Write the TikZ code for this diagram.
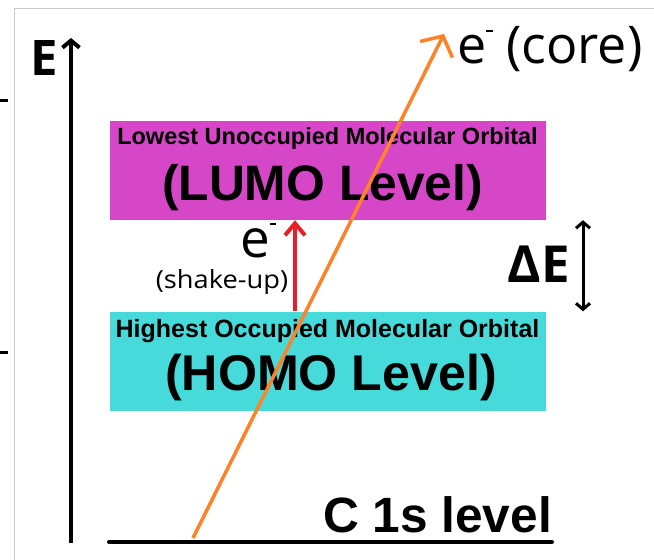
\documentclass[tikz,border=0pt]{standalone}
\usepackage{fontspec}
\usepackage{graphicx}
\setmainfont{Liberation Sans}
\newfontfamily\segoe{Open Sans}
\usetikzlibrary{arrows.meta}
\newcommand\supminus{\kern0.005em\raisebox{0.6em}{\rule{0.12em}{0.04em}}}
\definecolor{lumocol}{RGB}{214,71,200}
\definecolor{homocol}{RGB}{71,218,218}
\definecolor{orangearr}{RGB}{255,130,40}
\definecolor{redarr}{RGB}{232,30,40}
\definecolor{framecol}{RGB}{200,200,200}
\tikzset{
  levelbox/.style={minimum width=436pt, minimum height=99pt, inner sep=0pt, draw=none},
  lbl/.style={inner sep=0pt, outer sep=0pt, text=black},
  axisline/.style={line width=4pt, -{Straight Barb[length=7pt,width=17pt]}},
  corearrow/.style={orangearr, line width=3.5pt, -{Straight Barb[length=15pt,width=36pt]}},
  shakearrow/.style={redarr, line width=4pt, -{Straight Barb[length=12pt,width=20pt]}},
  gaparrow/.style={line width=3pt, {Straight Barb[length=6pt,width=14pt]}-{Straight Barb[length=6pt,width=14pt]}},
}
\begin{document}
\begin{tikzpicture}[x=1pt,y=-1pt]
\useasboundingbox (0,0) rectangle (654,560);
\fill[white] (0,0) rectangle (654,560);
% frame lines and ticks
\draw[framecol, line width=1pt] (14,560) -- (14,8) -- (654,8);
\draw[line width=3pt] (0,100) -- (8,100);
\draw[line width=3pt] (0,352) -- (8,352);
% boxes
\node[levelbox, fill=lumocol] (lumo) at (328,170.5) {};
\node[levelbox, fill=homocol] (homo) at (328,361) {};
% texts in boxes
\node[lbl, anchor=base] (lumo1) at (327.5,144) {\fontsize{23.5}{24}\selectfont\bfseries Lowest Unoccupied Molecular Orbital};
\node[lbl, anchor=base] (lumo2) at (322.5,200) {\fontsize{49.8}{50}\selectfont\bfseries (LUMO Level)};
\node[lbl, anchor=base] (homo1) at (327.5,337) {\fontsize{25}{26}\selectfont\bfseries Highest Occupied Molecular Orbital};
\node[lbl, anchor=base] (homo2) at (331,390) {\fontsize{50.2}{51}\selectfont\bfseries (HOMO Level)};
% axis
\coordinate (axbot) at (71,543);
\coordinate (axtop) at (71,38);
\draw[axisline] (axbot) -- (axtop);
\node[lbl, anchor=base] (Elbl) at (44.5,75) {\fontsize{49}{50}\selectfont\segoe\bfseries E};
% C 1s level
\coordinate (c1sL) at (109,542);
\coordinate (c1sR) at (552,542);
\draw[line width=4pt, line cap=round] (c1sL) -- (c1sR);
\node[lbl, anchor=base east] (c1s) at (552,532) {\fontsize{49.6}{50}\selectfont\bfseries C 1s level};
% core electron
\coordinate (coreS) at (193,538);
\coordinate (coreE) at (444,34);
\draw[corearrow] (coreS) -- (coreE);
\node[lbl, anchor=base west] (core) at (457,63) {\fontsize{52}{53}\selectfont\segoe e\supminus\ (core)};
% shake-up
\coordinate (redx) at (295,0);
\draw[shakearrow] (homo.north -| redx) -- (lumo.south -| redx);
\node[lbl, anchor=base west] (eshake) at (240,257) {\fontsize{53}{54}\selectfont\segoe e\supminus};
\node[lbl, anchor=base] (shake) at (222,288) {\scalebox{1.09}[1]{\fontsize{25}{26}\selectfont\segoe (shake-up)}};
% Delta E
\coordinate (gapx) at (583,0);
\draw[gaparrow] (lumo.south -| gapx) -- (homo.north -| gapx);
\node[lbl, anchor=base] (dE) at (539,282) {\fontsize{51}{52}\selectfont\segoe\bfseries ΔE};
\end{tikzpicture}
\end{document}
